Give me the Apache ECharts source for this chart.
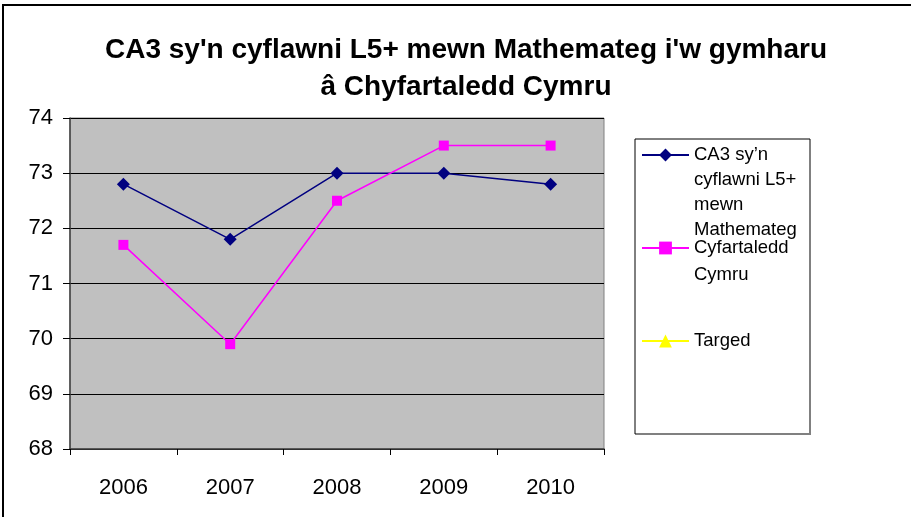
<!DOCTYPE html>
<html>
<head>
<meta charset="utf-8">
<script src="https://cdn.jsdelivr.net/npm/echarts@6/dist/echarts.min.js"></script>
<style>
html,body{margin:0;padding:0;background:#fff;}
#c{width:911px;height:517px;}
</style>
</head>
<body>
<div id="c"></div>
<script>
const titleText = "CA3 sy'n cyflawni L5+ mewn Mathemateg i'w gymharu\nâ Chyfartaledd Cymru";
const years = ['2006', '2007', '2008', '2009', '2010'];
const seriesNames = ["CA3 sy'n cyflawni L5+ mewn Mathemateg", 'Cyfartaledd Cymru', 'Targed'];
const legendLines = [["CA3 sy’n", 'cyflawni L5+', 'mewn', 'Mathemateg'], ['Cyfartaledd', 'Cymru'], ['Targed']];
const ca3Values = [72.8, 71.8, 73.0, 73.0, 72.8];
const cymruValues = [71.7, 69.9, 72.5, 73.5, 73.5];
const targedValues = [];
const yTicks = { min: 68, max: 74, interval: 1 };

const FONT = '"Liberation Sans", Arial, sans-serif';
const chart = echarts.init(document.getElementById('c'), null, { renderer: 'canvas' });

// icon sits at the vertical centre of the text block; pad with blank lines above so
// the first real line is centred on the icon
function legendFor(idx, iconY, lh) {
  const lines = legendLines[idx];
  const padded = new Array(lines.length - 1).fill('').concat(lines);
  const total = padded.length * lh;
  return {
    show: true,
    data: [seriesNames[idx]],
    left: 641,
    top: iconY - total / 2,
    padding: 0,
    itemWidth: 47,
    itemHeight: 16,
    selectedMode: false,
    formatter: function () { return padded.join('\n'); },
    textStyle: { fontFamily: FONT, fontSize: 18.5, color: '#000', lineHeight: lh }
  };
}

const option = {
  backgroundColor: '#fff',
  animation: false,
  title: {
    text: titleText,
    left: 461,
    top: 27,
    textAlign: 'center',
    textStyle: { fontFamily: FONT, fontSize: 28, fontWeight: 'bold', color: '#000', lineHeight: 37 }
  },
  graphic: [
    { type: 'rect', shape: { x: 3, y: 5, width: 1000, height: 600 }, style: { fill: 'none', stroke: '#000', lineWidth: 2 }, silent: true },
    { type: 'polyline', shape: { points: [[810, 139], [810, 434], [635, 434]] }, style: { fill: 'none', stroke: '#808080', lineWidth: 2 }, silent: true, z: 0 },
    { type: 'polyline', shape: { points: [[635, 434], [635, 139], [810, 139]] }, style: { fill: 'none', stroke: '#000', lineWidth: 1 }, silent: true, z: 0 }
  ],
  legend: [
    legendFor(0, 155, 25),
    legendFor(1, 248, 27),
    legendFor(2, 341, 22)
  ],
  grid: {
    left: 70, top: 118, width: 534, height: 331,
    show: true, backgroundColor: '#c0c0c0', borderColor: '#808080', borderWidth: 1
  },
  xAxis: {
    type: 'category',
    data: years,
    boundaryGap: true,
    axisLine: { show: true, lineStyle: { color: '#404040', width: 1.5 } },
    axisTick: { show: true, length: 6, lineStyle: { color: '#000' } },
    axisLabel: { margin: 28, fontFamily: FONT, fontSize: 22, color: '#000' },
    splitLine: { show: false }
  },
  yAxis: {
    type: 'value',
    min: yTicks.min, max: yTicks.max, interval: yTicks.interval,
    axisLine: { show: true, lineStyle: { color: '#404040', width: 1.5 } },
    axisTick: { show: true, length: 7, lineStyle: { color: '#000' } },
    axisLabel: { margin: 17, fontFamily: FONT, fontSize: 22, color: '#000' },
    splitLine: { show: true, lineStyle: { color: '#000', width: 1 } }
  },
  series: [
    {
      name: seriesNames[0], type: 'line', data: ca3Values,
      symbol: 'diamond', symbolSize: 13,
      lineStyle: { color: '#000080', width: 1.5 },
      itemStyle: { color: '#000080' }
    },
    {
      name: seriesNames[1], type: 'line', data: cymruValues,
      symbol: 'rect', symbolSize: 10,
      lineStyle: { color: '#ff00ff', width: 1.5 },
      itemStyle: { color: '#ff00ff' }
    },
    {
      name: seriesNames[2], type: 'line', data: targedValues,
      symbol: 'triangle', symbolSize: 10,
      lineStyle: { color: '#ffff00', width: 1.5 },
      itemStyle: { color: '#ffff00' }
    }
  ]
};
chart.setOption(option);
</script>
</body>
</html>
